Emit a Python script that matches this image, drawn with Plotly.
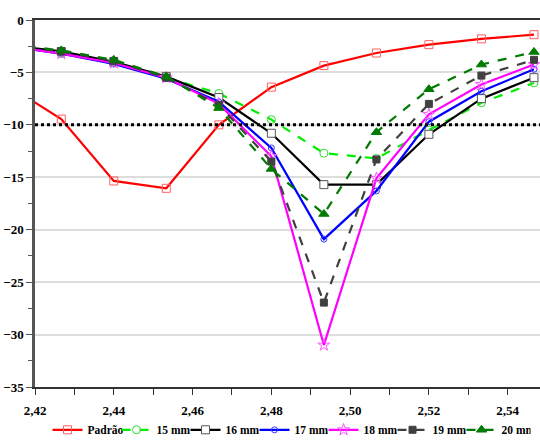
import plotly.graph_objects as go

freq = [2.41333, 2.42667, 2.44, 2.45333, 2.46667, 2.48, 2.49333, 2.50667, 2.52, 2.53333, 2.54667]
padrao = [-6.3, -9.45, -15.35, -16.05, -10.0, -6.4, -4.35, -3.15, -2.35, -1.8, -1.4]
mm15 = [-2.5, -3.2, -4.0, -5.5, -7.0, -9.5, -12.7, -13.2, -10.5, -7.9, -6.0]
mm16 = [-2.4, -3.0, -4.0, -5.4, -7.4, -10.8, -15.7, -15.7, -10.9, -7.5, -5.5]
mm17 = [-2.5, -3.2, -4.2, -5.6, -7.8, -12.2, -20.9, -16.3, -9.7, -6.8, -4.7]
mm18 = [-2.5, -3.2, -4.1, -5.5, -8.0, -13.0, -31.0, -15.1, -9.0, -6.15, -4.25]
mm19 = [-2.4, -3.0, -3.9, -5.5, -8.1, -13.5, -26.95, -13.3, -8.0, -5.3, -3.8]
mm20 = [-2.3, -2.9, -3.8, -5.4, -8.4, -14.2, -18.5, -10.7, -6.6, -4.25, -3.05]
threshold = -10
x_range = [2.42, 2.5482]

series = [
    ("Padrão", padrao, "#FF0000", "solid", "square-open", 8, "#FF6060", None),
    ("15 mm", mm15, "#00EE00", "dash", "circle-open", 8, "#33DD33", None),
    ("16 mm", mm16, "#000000", "solid", "square", 8, "#555555", "#FFFFFF"),
    ("17 mm", mm17, "#0000FF", "solid", "circle-open", 6, "#3333FF", None),
    ("18 mm", mm18, "#FF00FF", "solid", "star-open", 9, "#FF55FF", None),
    ("19 mm", mm19, "#404040", "dash", "square", 7, "#404040", "#404040"),
    ("20 mm", mm20, "#007A00", "dash", "triangle-up", 9, "#007A00", "#007A00"),
]

fig = go.Figure()
for name, ys, col, dash, sym, size, mcol, fill in series:
    marker = dict(symbol=sym, size=size, line=dict(color=mcol, width=1))
    marker["color"] = fill if fill is not None else mcol
    fig.add_trace(go.Scatter(
        x=freq, y=ys, name=name, mode="lines+markers",
        line=dict(color=col, width=2.2, dash=dash),
        marker=marker,
    ))

fig.add_trace(go.Scatter(
    x=x_range, y=[threshold, threshold], mode="lines", showlegend=False,
    line=dict(color="#000000", width=3, dash="3px,3px"), hoverinfo="skip",
))

fam = "Liberation Serif, Times New Roman, serif"
font = dict(family=fam, size=13, color="#000000", weight="bold")
lfont = dict(family=fam, size=11.5, color="#000000", weight="bold")

fig.update_layout(
    width=540, height=444,
    margin=dict(l=35, r=0, t=20, b=57, autoexpand=False),
    paper_bgcolor="white", plot_bgcolor="white",
    separators=",.",
    font=font,
    showlegend=True,
    legend=dict(orientation="h", xref="container", yref="container",
                x=0.088, xanchor="left", y=0.032, yanchor="middle",
                font=lfont, itemwidth=30, entrywidth=24, tracegroupgap=0,
                bgcolor="rgba(0,0,0,0)"),
)
fig.update_xaxes(
    range=x_range, tick0=2.42, dtick=0.02, tickformat=".2f",
    showgrid=False, zeroline=False, automargin=False,
    showline=True, linecolor="#333333", linewidth=1.5, mirror=True,
    ticks="outside", ticklen=6, tickcolor="#333333", ticklabelstandoff=5,
    minor=dict(ticks="outside", dtick=0.01, tick0=2.42, ticklen=6, tickcolor="#333333", showgrid=False),
    tickfont=font,
)
fig.update_yaxes(
    range=[-35, 0], dtick=5, tickformat="d",
    showgrid=True, gridcolor="#DDDDDD", gridwidth=1.5, zeroline=False, automargin=False,
    showline=True, linecolor="#555555", linewidth=2.5,
    ticks="outside", ticklen=6, tickcolor="#555555",
    minor=dict(ticks="outside", dtick=2.5, ticklen=4, tickcolor="#555555", showgrid=False),
    tickfont=font,
)

fig.write_html("out.html", config={"displayModeBar": False},
               post_script="document.body.style.margin='0';")
